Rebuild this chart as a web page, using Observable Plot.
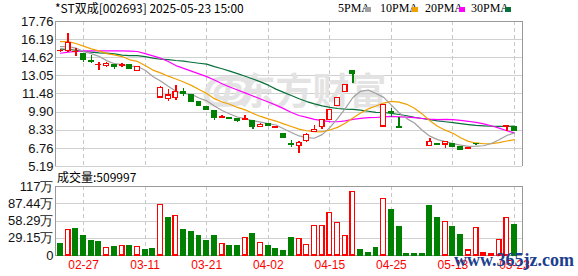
<!DOCTYPE html>
<html><head><meta charset="utf-8">
<script src="https://cdn.jsdelivr.net/npm/d3@7"></script>
<script src="https://cdn.jsdelivr.net/npm/@observablehq/plot@0.6"></script>
<style>
body{margin:0;background:#fff;}
#wrap{position:relative;width:578px;height:276px;overflow:hidden;background:#fff;font-family:"Noto Sans CJK SC",sans-serif;}
#wrap svg{position:absolute;left:0;background:transparent;}
.t{position:absolute;white-space:nowrap;font-size:12px;color:#000;line-height:12px;}
.sq{position:absolute;width:6px;height:5px;}
</style></head><body>
<div id="wrap"></div>
<script>
const dates = ["02-24","02-25","02-26","02-27","02-28","03-03","03-04","03-05","03-06","03-07",
"03-10","03-11","03-12","03-13","03-14","03-17","03-18","03-19","03-20","03-21",
"03-24","03-25","03-26","03-27","03-28","03-31","04-01","04-02","04-03","04-07",
"04-08","04-09","04-10","04-11","04-14","04-15","04-16","04-17","04-18","04-21",
"04-22","04-23","04-24","04-25","04-28","04-30","05-06","05-07","05-08","05-09",
"05-12","05-13","05-14","05-15","05-16","05-19","05-20","05-21","05-22","05-23"];
const open = [15.20,15.22,15.10,14.90,14.30,13.96,13.90,13.97,13.93,14.00,
13.48,12.41,11.17,11.17,11.05,11.14,11.60,11.34,10.73,10.38,
10.01,9.40,9.36,9.34,9.20,9.14,8.63,8.85,8.53,7.98,
7.14,6.94,7.40,8.19,8.62,9.19,10.44,11.68,13.45,11.88,
10.69,9.62,8.66,9.92,8.60,8.14,7.73,7.34,7.00,7.10,
7.10,7.15,6.85,6.75,7.17,7.49,7.86,8.25,8.62,8.62];
const high = [15.33,16.72,15.44,14.93,14.78,14.20,14.17,13.99,14.12,14.02,
13.79,12.41,11.17,12.09,11.83,12.18,11.94,11.36,10.75,10.40,
10.03,9.62,9.42,9.36,9.60,9.19,8.88,8.87,8.64,8.00,
7.45,7.40,8.01,8.71,9.28,10.11,11.12,12.23,13.50,11.88,
10.69,9.62,10.58,10.18,9.45,8.14,7.73,7.34,7.63,7.15,
7.30,7.17,6.94,6.85,7.20,7.49,7.86,8.25,8.66,8.66];
const low = [15.10,15.10,14.70,14.17,14.12,13.53,13.79,13.62,13.74,13.57,
13.48,12.41,11.17,11.17,10.82,10.90,11.25,10.80,10.42,10.04,
9.19,9.40,9.31,9.02,9.14,8.41,8.62,8.66,8.52,7.64,
6.82,6.36,7.28,8.18,8.36,9.15,10.40,11.60,12.35,11.88,
10.69,9.62,8.66,9.45,8.55,8.14,7.73,7.34,6.97,6.98,
6.76,6.90,6.60,6.70,7.05,7.49,7.86,8.25,8.21,8.24];
const close = [15.22,15.91,15.13,14.40,14.26,14.00,14.05,13.80,13.97,13.68,
13.79,12.41,11.17,12.00,11.34,11.63,11.45,10.81,10.44,10.06,
9.42,9.45,9.33,9.15,9.27,8.65,8.76,8.68,8.57,7.66,
7.05,7.23,7.92,8.35,9.19,10.11,11.12,12.23,13.20,11.88,
10.69,9.62,10.50,9.85,8.57,8.14,7.73,7.34,7.30,7.05,
7.28,6.92,6.63,6.80,7.13,7.49,7.86,8.25,8.66,8.26];
const prevClose0 = 15.25;
// volume in 万 (ten-thousand lots)
const volume = [18.5,43.2,45.4,33.6,23.5,21.9,12.9,13.5,16.3,16.3,
14.6,8.4,10.1,85.8,63.9,66.7,43.7,38.7,32.0,23.5,
33.6,19.6,15.1,15.1,29.7,37.0,21.3,15.1,10.1,6.7,
28.6,28.0,17.9,50.5,50.5,71.8,55.5,33.1,107.1,8.4,
3.4,11.8,95.3,77.4,48.8,1.7,1.7,1.7,84.1,63.9,
57.2,48.8,35.3,8.4,46.6,3.4,2.2,26.4,63.9,51.0];
const ma5 = [15.59,15.59,15.45,15.16,14.98,14.74,14.37,14.10,14.02,13.90,
13.86,13.53,13.00,12.61,12.14,11.71,11.52,11.45,11.13,10.88,
10.44,10.04,9.74,9.48,9.32,9.17,9.03,8.90,8.79,8.46,
8.14,7.84,7.69,7.64,7.95,8.56,9.34,10.20,11.17,11.71,
11.82,11.52,11.18,10.51,9.85,9.34,8.96,8.33,7.82,7.52,
7.35,7.18,7.04,6.94,6.95,6.99,7.18,7.51,7.88,8.10];
const ma10 = [16.02,16.02,15.85,15.62,15.39,15.21,14.98,14.87,14.72,14.44,
14.30,13.95,13.55,13.31,13.02,12.78,12.52,12.22,11.87,11.51,
11.07,10.78,10.59,10.31,10.10,9.80,9.53,9.32,9.13,8.89,
8.66,8.43,8.29,8.21,8.20,8.35,8.58,8.94,9.40,9.82,
10.19,10.43,10.69,10.84,10.77,10.58,10.24,9.75,9.16,8.68,
8.34,8.07,7.68,7.37,7.23,7.16,7.17,7.26,7.40,7.52];
const ma20 = [15.01,15.10,15.16,15.21,15.21,15.21,15.21,15.21,15.21,15.20,
15.16,14.98,14.78,14.58,14.29,13.94,13.70,13.46,13.22,12.98,
12.69,12.37,12.08,11.82,11.57,11.30,11.04,10.78,10.51,10.21,
9.87,9.61,9.45,9.27,9.16,9.08,9.07,9.14,9.28,9.37,
9.43,9.44,9.50,9.53,9.50,9.47,9.42,9.35,9.29,9.26,
9.27,9.26,9.19,9.11,9.01,8.88,8.72,8.52,8.29,8.11];
const ma30 = [15.36,15.35,15.27,15.16,15.10,15.04,15.01,14.95,14.84,14.81,
14.80,14.72,14.58,14.49,14.46,14.38,14.32,14.23,14.14,14.06,
13.85,13.66,13.46,13.24,13.01,12.78,12.53,12.24,11.90,11.62,
11.35,11.06,10.82,10.62,10.45,10.32,10.22,10.17,10.14,10.08,
9.98,9.89,9.87,9.80,9.70,9.59,9.46,9.35,9.24,9.14,
9.07,8.99,8.90,8.82,8.75,8.71,8.68,8.66,8.67,8.69];
const priceTicks = [5.19,6.76,8.33,9.90,11.48,13.05,14.62,16.19,17.76];
const volTicks = [0,29.145,58.29,87.435,116.58];
const volTickLabels = ["0","29.15万","58.29万","87.44万","117万"];
const xTickIndex = [3,11,19,27,35,43,51,59];
const title = "*ST双成[002693] 2025-05-23 15:00";
const legendNames = ["5PMA","10PMA","20PMA","30PMA"];
const volLabel = "成交量:" + "509997";

const RED = "#ff0000", GREEN = "#008000";
const maColors = ["#a0a0a0","#f0a000","#ff00ff","#08703a"];
const xDomain = [-0.65, 60.04];

const rows = d3.range(dates.length).map(i => {
  const pc = i === 0 ? prevClose0 : close[i-1];
  const o = open[i], c = close[i];
  const up = c > o || (c === o && c >= pc);
  return {i, o, h: high[i], l: low[i], c, up, vol: volume[i], vup: c >= pc,
          ma5: ma5[i], ma10: ma10[i], ma20: ma20[i], ma30: ma30[i]};
});
const half = 0.31;
const font = "Liberation Sans, Arial, sans-serif";

const price = Plot.plot({
  width: 578, height: 180,
  marginLeft: 55, marginRight: 56, marginTop: 21, marginBottom: 14,
  style: {fontFamily: font, background: "transparent", color: "#000"},
  x: {type: "linear", domain: xDomain, axis: null, label: null},
  y: {domain: [5.19, 17.76], axis: null, label: null},
  marks: [
    Plot.ruleY(priceTicks, {stroke: "#d0d0d0", shapeRendering: "crispEdges"}),
    Plot.ruleX(xTickIndex, {stroke: "#c8c8c8", strokeDasharray: "4,3", shapeRendering: "crispEdges"}),
    Plot.text(["东方财富"], {frameAnchor: "top-left", lineAnchor: "middle", dx: 183, dy: 72, fontSize: 37, fontWeight: "bold", fill: "#e3e3e3", textAnchor: "start", fontFamily: "Noto Sans CJK SC"}),
    Plot.text(["ↂ"], {frameAnchor: "top-left", lineAnchor: "middle", dx: 143, dy: 72, fontSize: 40, fontWeight: "bold", fill: "#e3e3e3", textAnchor: "start", fontStyle: "italic"}),
    Plot.ruleY([17.76], {stroke: "#999", shapeRendering: "crispEdges"}),
    Plot.ruleX(xDomain, {stroke: "#999", shapeRendering: "crispEdges"}),
    Plot.axisY(priceTicks, {tickSize: 0, tickPadding: 2, fontSize: 13, tickFormat: d => d.toFixed(2), fill: "#111", label: null}),
    Plot.line(rows, {x: "i", y: "ma30", stroke: maColors[3], strokeWidth: 1.2}),
    Plot.line(rows, {x: "i", y: "ma20", stroke: maColors[2], strokeWidth: 1.2}),
    Plot.line(rows, {x: "i", y: "ma10", stroke: maColors[1], strokeWidth: 1.2}),
    Plot.line(rows, {x: "i", y: "ma5", stroke: maColors[0], strokeWidth: 1.2}),
    Plot.ruleX(rows, {x: "i", y1: "l", y2: "h", stroke: d => d.up ? RED : GREEN, strokeWidth: 1.4, shapeRendering: "crispEdges"}),
    Plot.rect(rows, {x1: d => d.i - half, x2: d => d.i + half, y1: "o", y2: "c",
      fill: d => d.up ? "#fff" : GREEN, stroke: d => d.up ? RED : GREEN, strokeWidth: 1.2, shapeRendering: "crispEdges"})
  ]
});

const vol = Plot.plot({
  width: 578, height: 108,
  marginLeft: 55, marginRight: 56, marginTop: 18, marginBottom: 21,
  style: {fontFamily: font, background: "transparent", color: "#000"},
  x: {type: "linear", domain: xDomain, axis: null, label: null},
  y: {domain: [0, 116.58], axis: null, label: null},
  marks: [
    Plot.ruleY(volTicks, {stroke: "#d0d0d0", shapeRendering: "crispEdges"}),
    Plot.ruleX(xTickIndex, {stroke: "#c8c8c8", strokeDasharray: "4,3", shapeRendering: "crispEdges"}),
    Plot.ruleY([0, 116.58], {stroke: "#999", shapeRendering: "crispEdges"}),
    Plot.ruleX(xDomain, {stroke: "#999", shapeRendering: "crispEdges"}),
    Plot.axisY(volTicks, {tickSize: 0, tickPadding: 2, fontSize: 13, fill: "#111", label: null,
      tickFormat: d => volTickLabels[volTicks.indexOf(d)]}),
    Plot.axisX(xTickIndex, {tickSize: 0, tickPadding: 5, fontSize: 12, fill: RED, label: null,
      tickFormat: d => dates[d]}),
    Plot.rect(rows, {x1: d => d.i - half, x2: d => d.i + half, y1: 0, y2: "vol",
      fill: d => d.vup ? "#fff" : GREEN, stroke: d => d.vup ? RED : GREEN, strokeWidth: 1.2, shapeRendering: "crispEdges"})
  ]
});

const wrap = document.getElementById("wrap");
price.style.top = "0px";
vol.style.top = "168px";
wrap.appendChild(price);
wrap.appendChild(vol);

function addText(txt, left, top, css) {
  const d = document.createElement("div");
  d.className = "t";
  d.textContent = txt;
  d.style.left = left + "px";
  d.style.top = top + "px";
  if (css) Object.assign(d.style, css);
  wrap.appendChild(d);
  return d;
}
addText(title, 55, 2, {fontSize: "12px"});
const legX = [338, 380, 425, 471];
const sqX = [365, 412, 459, 505];
legendNames.forEach((n, k) => {
  addText(n, legX[k], 2, {fontFamily: "Liberation Serif, serif", fontSize: "12px"});
  const s = document.createElement("div");
  s.className = "sq";
  s.style.left = sqX[k] + "px";
  s.style.top = "7px";
  s.style.background = maColors[k];
  wrap.appendChild(s);
});
addText(volLabel, 57, 171, {fontSize: "12px"});
addText("www.365jz.com", 454, 251, {fontFamily: "Liberation Serif, serif", fontSize: "18px", fontWeight: "bold", color: "#1c3f8f", lineHeight: "18px"});
</script>
</body></html>
